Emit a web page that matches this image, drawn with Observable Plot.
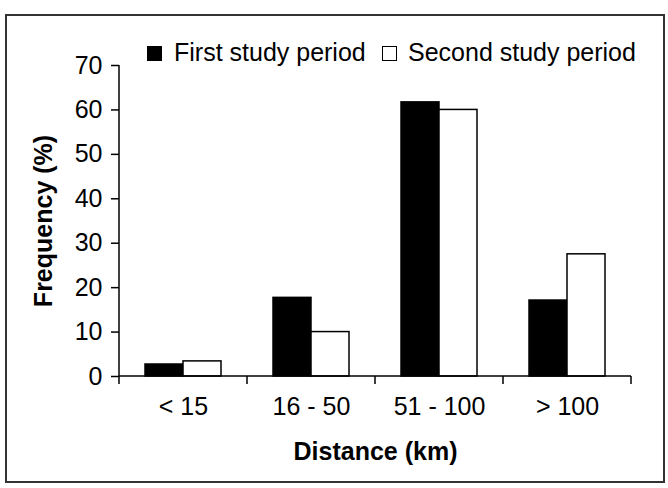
<!DOCTYPE html>
<html>
<head>
<meta charset="utf-8">
<script src="https://cdn.jsdelivr.net/npm/d3@7"></script>
<script src="https://cdn.jsdelivr.net/npm/@observablehq/plot@0.6"></script>
<style>
  body { margin: 0; background: #fff; }
  #wrap { position: relative; width: 668px; height: 488px; font-family: "Liberation Sans", Arial, sans-serif; color: #000; }
  #frame { position: absolute; left: 5px; top: 14px; width: 656px; height: 465px; border: 2px solid #333; pointer-events: none; }
  .key { position: absolute; font-size: 25px; line-height: 25px; white-space: nowrap; }
  .swatch { position: absolute; width: 15px; height: 15px; box-sizing: border-box; border: 1.5px solid #000; }
</style>
</head>
<body>
<div id="wrap">
  <div id="chart"></div>
  <div id="legend"></div>
  <div id="frame"></div>
</div>
<script>
// Distance classes and the share of records (%) in each study period
const distances = ["< 15", "16 - 50", "51 - 100", "> 100"];
const periods = ["First study period", "Second study period"];
const firstPeriod = [2.7, 17.7, 61.7, 17.1];
const secondPeriod = [3.4, 10.0, 60.0, 27.5];
const yTicks = [0, 10, 20, 30, 40, 50, 60, 70];
const periodFills = ["#000", "#fff"];

const rows = distances.flatMap((d, i) => [
  {distance: d, period: periods[0], value: firstPeriod[i]},
  {distance: d, period: periods[1], value: secondPeriod[i]}
]);

const chart = Plot.plot({
  width: 668,
  height: 488,
  marginLeft: 117,
  marginRight: 36,
  marginTop: 65,
  marginBottom: 112,
  style: {fontFamily: "'Liberation Sans', Arial, sans-serif", fontSize: "25px", color: "#000", background: "transparent", overflow: "visible"},
  fx: {domain: distances, padding: 0, label: null},
  x: {domain: periods, paddingInner: 0, paddingOuter: 0.67, axis: null, label: null},
  y: {domain: [0, 70], label: null},
  color: {domain: periods, range: periodFills},
  marks: [
    Plot.barY(rows, {fx: "distance", x: "period", y: "value", fill: "period", stroke: "#000", strokeWidth: 1.5}),
    Plot.axisY(yTicks, {tickSize: 8, tickPadding: 9, strokeWidth: 1.5, label: null, labelArrow: "none"}),
    Plot.axisY({ticks: [], tickSize: 0, label: "Frequency (%)", labelAnchor: "center", labelArrow: "none", labelOffset: 85, fontWeight: "bold"}),
    Plot.axisFx({anchor: "bottom", tickSize: 0, tickPadding: 21, label: null, labelArrow: "none"}),
    Plot.axisFx({anchor: "bottom", ticks: [], tickSize: 0, label: "Distance (km)", labelAnchor: "center", labelArrow: "none", labelOffset: 83, fontWeight: "bold"})
  ]
});

// Axis lines and category boundary ticks, placed with the plot's own scales
const fx = chart.scale("fx");
const y = chart.scale("y");
const edges = distances.map(d => fx.apply(d)).concat(fx.apply(distances[distances.length - 1]) + fx.bandwidth);
const y0 = y.apply(0);
const g = d3.select(chart).append("g").attr("stroke", "#000").attr("stroke-width", 1.5);
g.append("line").attr("x1", edges[0]).attr("x2", edges[0]).attr("y1", y.apply(70)).attr("y2", y0);
g.append("line").attr("x1", edges[0]).attr("x2", edges[edges.length - 1]).attr("y1", y0).attr("y2", y0);
g.selectAll(".edge").data(edges).join("line")
  .attr("x1", d => d).attr("x2", d => d).attr("y1", y0).attr("y2", y0 + 8);

document.getElementById("chart").append(chart);

// Legend row
const legend = document.getElementById("legend");
const keyPos = [{sx: 147, tx: 174}, {sx: 382, tx: 408}];
periods.forEach((p, i) => {
  const sw = document.createElement("div");
  sw.className = "swatch";
  sw.style.left = keyPos[i].sx + "px";
  sw.style.top = "46px";
  sw.style.background = periodFills[i];
  legend.append(sw);
  const t = document.createElement("div");
  t.className = "key";
  t.style.left = keyPos[i].tx + "px";
  t.style.top = "40px";
  t.textContent = p;
  legend.append(t);
});
</script>
</body>
</html>
